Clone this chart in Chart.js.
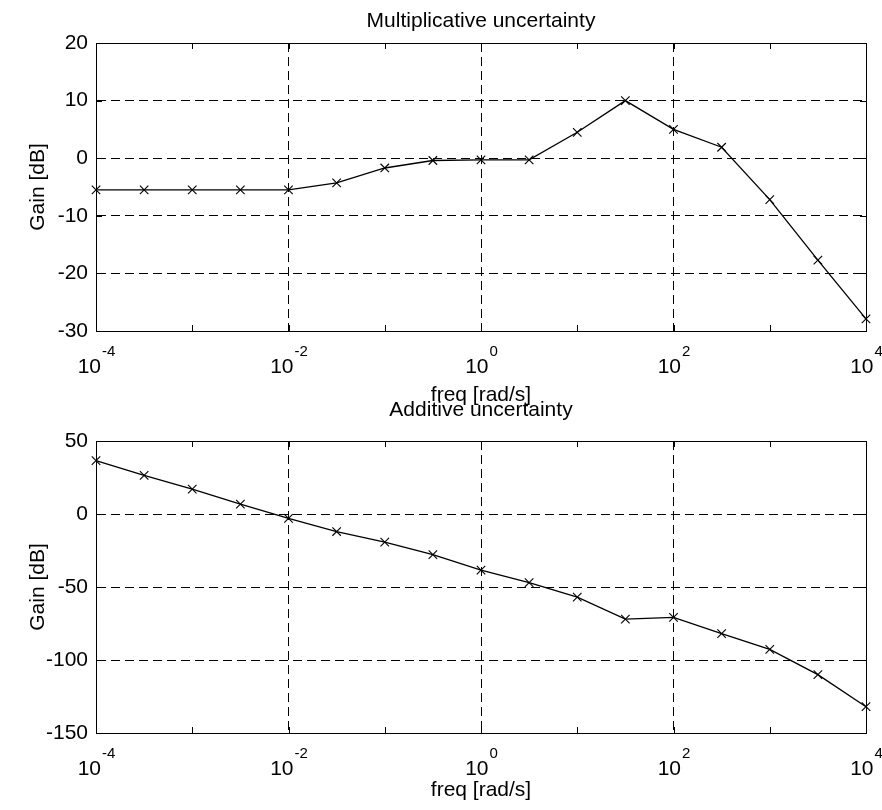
<!DOCTYPE html>
<html>
<head>
<meta charset="utf-8">
<script src="https://cdn.jsdelivr.net/npm/chart.js@4.4.1/dist/chart.umd.min.js"></script>
<style>
body { margin: 0; background: #fff; }
#wrap { position: relative; width: 882px; height: 810px; }
canvas { position: absolute; left: 0; }
#multChart { top: 0; }
#addChart { top: 395px; }
</style>
</head>
<body>
<div id="wrap">
<canvas id="multChart" width="882" height="410"></canvas>
<canvas id="addChart" width="882" height="415"></canvas>
</div>
<script>
// frequencies, half a decade apart
var freq = [1e-4, 3.162e-4, 1e-3, 3.162e-3, 1e-2, 3.162e-2, 0.1, 0.3162, 1,
            3.162, 10, 31.62, 100, 316.2, 1000, 3162, 10000];
var multGain = [-5.5, -5.5, -5.5, -5.5, -5.5, -4.3, -1.7, -0.4, -0.3, -0.3,
                4.5, 10, 5, 1.9, -7.2, -17.7, -27.9];
var addGain = [36.5, 26.5, 17, 6.8, -3, -12, -19.3, -27.8, -38.5, -47,
               -57, -72, -70.8, -82, -92.7, -110, -132];

var xTickValues = [1e-4, 1e-2, 1, 1e2, 1e4];
var xTickExps = ['-4', '-2', '0', '2', '4'];
var decades = [1e-4, 1e-3, 1e-2, 1e-1, 1, 1e1, 1e2, 1e3, 1e4];
var xGridValues = [1e-2, 1, 1e2];

var FONT = '"Liberation Sans", Arial, Helvetica, sans-serif';
Chart.defaults.font.family = FONT;
Chart.defaults.color = '#000';

// box, inward tick marks and 10^n labels like the matlab plot
const matlabAxes = {
    id: 'matlabAxes',
    afterDraw(chart) {
        const ctx = chart.ctx;
        const a = chart.chartArea;
        const xs = chart.scales.x;
        const ys = chart.scales.y;
        ctx.save();
        ctx.strokeStyle = '#000';
        ctx.lineWidth = 1;
        ctx.strokeRect(a.left + 0.5, a.top + 0.5, a.right - a.left, a.bottom - a.top);

        ctx.beginPath();
        decades.forEach(function(v){
            const x = Math.round(xs.getPixelForValue(v)) + 0.5;
            ctx.moveTo(x, a.top); ctx.lineTo(x, a.top + 6);
            ctx.moveTo(x, a.bottom); ctx.lineTo(x, a.bottom - 6);
        });
        ys.ticks.forEach(function(t){
            const y = Math.round(ys.getPixelForValue(t.value)) + 0.5;
            ctx.moveTo(a.left, y); ctx.lineTo(a.left + 6, y);
            ctx.moveTo(a.right, y); ctx.lineTo(a.right - 6, y);
        });
        ctx.stroke();

        ctx.fillStyle = '#000';
        ctx.textBaseline = 'alphabetic';
        ctx.textAlign = 'left';
        xTickValues.forEach(function(v, i){
            const px = xs.getPixelForValue(v);
            ctx.font = '21px ' + FONT;
            const w1 = ctx.measureText('10').width;
            ctx.font = '15px ' + FONT;
            const w2 = ctx.measureText(xTickExps[i]).width;
            const x0 = px - (w1 + w2) / 2;
            ctx.font = '21px ' + FONT;
            ctx.fillText('10', x0, a.bottom + 42);
            ctx.font = '15px ' + FONT;
            ctx.fillText(xTickExps[i], x0 + w1 + 1, a.bottom + 25);
        });
        ctx.restore();
    }
};

function makeConfig(values, title, yMin, yMax, yStep, t){
    const points = [];
    for (var i = 0; i < freq.length; i++){
        points.push({x: freq[i], y: values[i]});
    }
    return {
        type: 'line',
        data: {
            datasets: [{
                data: points,
                borderColor: '#000',
                borderWidth: 1.3,
                pointStyle: 'crossRot',
                pointRadius: 6,
                pointBorderColor: '#000',
                pointBorderWidth: 1.1,
                fill: false,
                tension: 0,
                clip: false
            }]
        },
        options: {
            responsive: false,
            animation: false,
            devicePixelRatio: 1,
            layout: { padding: { left: 0, right: 16, top: 0, bottom: 0 } },
            plugins: {
                legend: { display: false },
                tooltip: { enabled: false },
                title: {
                    display: true,
                    text: title,
                    fullSize: false,
                    color: '#000',
                    font: { size: 21, weight: 'normal' },
                    padding: { top: t.titleTop, bottom: t.titleBottom }
                }
            },
            scales: {
                x: {
                    type: 'logarithmic',
                    min: 1e-4,
                    max: 1e4,
                    afterBuildTicks: function(scale){
                        scale.ticks = decades.map(function(v){ return {value: v}; });
                    },
                    afterFit: function(scale){ scale.height = t.xHeight; },
                    ticks: { display: false },
                    grid: {
                        drawTicks: false,
                        color: function(c){
                            return (c.tick && xGridValues.indexOf(c.tick.value) >= 0) ? '#000' : 'rgba(0,0,0,0)';
                        },
                        lineWidth: 1
                    },
                    border: { display: true, color: '#000', dash: [9, 5] },
                    title: {
                        display: true,
                        text: 'freq [rad/s]',
                        color: '#000',
                        font: { size: 21 },
                        padding: { top: 0, bottom: t.freqBottom }
                    }
                },
                y: {
                    min: yMin,
                    max: yMax,
                    afterFit: function(scale){ scale.width = 96; },
                    ticks: {
                        stepSize: yStep,
                        padding: 8,
                        color: '#000',
                        font: { size: 21 }
                    },
                    grid: { drawTicks: false, color: '#000', lineWidth: 1 },
                    border: { display: true, color: '#000', dash: [9, 5] },
                    title: {
                        display: true,
                        text: 'Gain [dB]',
                        color: '#000',
                        font: { size: 21 },
                        padding: { top: 26, bottom: 0 }
                    }
                }
            }
        },
        plugins: [matlabAxes]
    };
}

const multChart = new Chart(
    document.getElementById('multChart'),
    makeConfig(multGain, 'Multiplicative uncertainty', -30, 20, 10,
        { titleTop: 8.4, titleBottom: 9.4, xHeight: 79, freqBottom: 2.4 })
);

const addChart = new Chart(
    document.getElementById('addChart'),
    makeConfig(addGain, 'Additive uncertainty', -150, 50, 50,
        { titleTop: 2.4, titleBottom: 18.4, xHeight: 77, freqBottom: 7.4 })
);
</script>
</body>
</html>
